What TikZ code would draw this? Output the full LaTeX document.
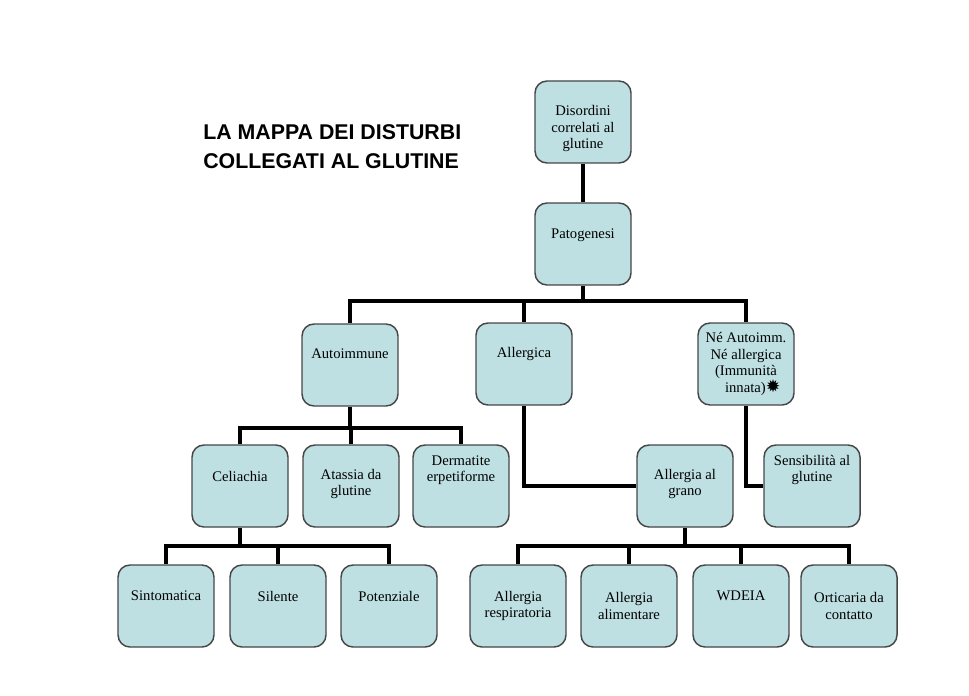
\documentclass[tikz,border=0pt]{standalone}
\usepackage{fontspec}
\setmainfont{Liberation Serif}
\newfontfamily\titlefont{Liberation Sans}
\newfontfamily\symfont{DejaVu Sans}
\definecolor{boxfill}{RGB}{190,224,226}
\definecolor{boxline}{RGB}{70,70,70}
\begin{document}
\begin{tikzpicture}[x=0.75pt,y=-0.75pt,
  box/.style={draw=boxline,line width=1.1pt,fill=boxfill,rounded corners=9pt,
    minimum width=72pt,minimum height=61.5pt,inner sep=0pt},
  lbl/.style={align=center,inner sep=0pt,font=\fontsize{11}{12.4}\selectfont},
  conn/.style={line width=3pt,black}]
\useasboundingbox (0,0) rectangle (969,695);
% title
\node[anchor=west,inner sep=0pt,font=\titlefont\bfseries\fontsize{16}{20}\selectfont] (t1) at (203,132) {LA MAPPA DEI DISTURBI};
\node[anchor=west,inner sep=0pt,font=\titlefont\bfseries\fontsize{16}{20}\selectfont] (t2) at (203,161) {COLLEGATI AL GLUTINE};
% boxes
\node[box] (dis) at (583,122) {};
\node[box] (pat) at (583,244) {};
\node[box] (auto) at (350,365) {};
\node[box] (alle) at (524,364) {};
\node[box] (nea) at (746,364) {};
\node[box] (cel) at (240,486) {};
\node[box] (ata) at (351,486) {};
\node[box] (derm) at (461,486) {};
\node[box] (grano) at (685,486) {};
\node[box] (sens) at (812,486) {};
\node[box] (sint) at (166,606) {};
\node[box] (sil) at (278,606) {};
\node[box] (pot) at (389,606) {};
\node[box] (resp) at (518,606) {};
\node[box] (alim) at (629,606) {};
\node[box] (wdeia) at (741,606) {};
\node[box] (ortic) at (849,606) {};
% labels
\node[lbl] (dis-t) at (583,128.5) {Disordini\\correlati al\\glutine};
\node[lbl] (pat-t) at (583,235) {Patogenesi};
\node[lbl] (auto-t) at (350,354) {Autoimmune};
\node[lbl] (alle-t) at (524,354) {Allergica};
\node[lbl] (nea-t) at (746,364) {Né Autoimm.\\Né allergica\\(Immunità\\\hspace*{10pt}innata){\symfont\fontsize{13}{12}\selectfont ✹}};
\node[lbl] (cel-t) at (240,476) {Celiachia};
\node[lbl] (ata-t) at (351,484) {Atassia da\\glutine};
\node[lbl] (derm-t) at (461,470) {Dermatite\\erpetiforme};
\node[lbl] (grano-t) at (685,484) {Allergia al\\grano};
\node[lbl] (sens-t) at (812,470) {Sensibilità al\\glutine};
\node[lbl] (sint-t) at (166,596) {Sintomatica};
\node[lbl] (sil-t) at (278,596) {Silente};
\node[lbl] (pot-t) at (389,596) {Potenziale};
\node[lbl] (resp-t) at (518,606) {Allergia\\respiratoria};
\node[lbl] (alim-t) at (629,606) {Allergia\\alimentare};
\node[lbl] (wdeia-t) at (741,596) {WDEIA};
\node[lbl] (ortic-t) at (849,606) {Orticaria da\\contatto};
% junction coordinates
\coordinate (b1) at (583,301);
\coordinate (b2) at (350,428);
\coordinate (b3) at (240,546);
\coordinate (b4) at (685,546);
% connectors
\draw[conn] (dis.south) -- (pat.north);
\draw[conn] (pat.south) -- (b1);
\draw[conn] (auto.north) |- (b1) -| (nea.north);
\draw[conn] (alle.north) -- (alle.north |- b1);
\draw[conn] (auto.south) -- (b2);
\draw[conn] (cel.north) |- (b2) -| (derm.north);
\draw[conn] (ata.north) -- (ata.north |- b2);
\draw[conn] (alle.south) |- (grano.west);
\draw[conn] (nea.south) |- (sens.west);
\draw[conn] (cel.south) -- (b3);
\draw[conn] (sint.north) |- (b3) -| (pot.north);
\draw[conn] (sil.north) -- (sil.north |- b3);
\draw[conn] (grano.south) -- (b4);
\draw[conn] (resp.north) |- (b4) -| (ortic.north);
\draw[conn] (alim.north) -- (alim.north |- b4);
\draw[conn] (wdeia.north) -- (wdeia.north |- b4);
\end{tikzpicture}
\end{document}
